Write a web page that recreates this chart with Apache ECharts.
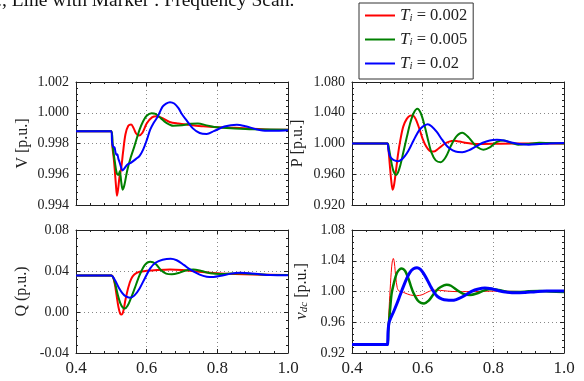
<!DOCTYPE html>
<html>
<head>
<meta charset="utf-8">
<script src="https://cdn.jsdelivr.net/npm/echarts@6/dist/echarts.min.js"></script>
<style>
  html, body { margin: 0; padding: 0; background: #fff; }
  #chart { width: 584px; height: 381px; }
</style>
</head>
<body>
<div id="chart"></div>
<script>
// legend labels
const seriesNames = ['0.002', '0.005', '0.02'];
const colors = ['#ff0000', '#008000', '#0000ff'];

// V [p.u.]
const vRed = [[0.4,0.9988],[0.5,0.9988],[0.503,0.9978],[0.507,0.9970],[0.51,0.9962],[0.513,0.9953],[0.516,0.9946],[0.519,0.9950],[0.523,0.9958],[0.528,0.9964],[0.533,0.9974],[0.54,0.9986],[0.548,0.99915],[0.556,0.99924],[0.563,0.9990],[0.57,0.99865],[0.578,0.99852],[0.588,0.9987],[0.6,0.9993],[0.615,0.9997],[0.628,0.99978],[0.645,0.99965],[0.665,0.9994],[0.69,0.9993],[0.72,0.99922],[0.76,0.99912],[0.8,0.99906],[0.85,0.99902],[0.9,0.99896],[0.95,0.9989],[1.0,0.99889]];
const vGreen = [[0.4,0.9988],[0.5,0.9988],[0.504,0.9978],[0.51,0.9968],[0.515,0.9961],[0.52,0.99595],[0.524,0.9962],[0.528,0.9955],[0.532,0.9950],[0.537,0.9953],[0.545,0.99625],[0.555,0.9971],[0.565,0.9978],[0.58,0.9989],[0.59,0.99945],[0.6,0.9998],[0.614,0.99997],[0.625,0.99993],[0.64,0.99965],[0.655,0.99935],[0.675,0.99915],[0.7,0.99918],[0.725,0.99928],[0.745,0.9993],[0.77,0.99918],[0.8,0.99905],[0.85,0.99898],[0.9,0.99893],[1.0,0.9989]];
const vBlue = [[0.4,0.9988],[0.5,0.9988],[0.502,0.9981],[0.505,0.9978],[0.509,0.99775],[0.512,0.9974],[0.515,0.99725],[0.517,0.9973],[0.52,0.9970],[0.523,0.9968],[0.527,0.9965],[0.531,0.99625],[0.536,0.99635],[0.545,0.99662],[0.556,0.99676],[0.57,0.9970],[0.58,0.9972],[0.59,0.9976],[0.6,0.9982],[0.61,0.9989],[0.62,0.99935],[0.63,0.9997],[0.645,1.0004],[0.655,1.0006],[0.666,1.00069],[0.678,1.0006],[0.69,1.0003],[0.7,0.9999],[0.713,0.9995],[0.73,0.9990],[0.75,0.99868],[0.77,0.99862],[0.79,0.9988],[0.82,0.9991],[0.855,0.99922],[0.88,0.99912],[0.91,0.99893],[0.94,0.99883],[0.97,0.99883],[1.0,0.99886]];

// P [p.u.]
const pRed = [[0.4,1],[0.5,1],[0.503,0.993],[0.507,0.972],[0.511,0.952],[0.515,0.940],[0.519,0.946],[0.524,0.963],[0.53,0.985],[0.537,1.005],[0.545,1.022],[0.555,1.032],[0.565,1.0362],[0.572,1.0365],[0.58,1.032],[0.59,1.02],[0.6,1.006],[0.61,0.996],[0.62,0.9905],[0.632,0.9895],[0.645,0.9935],[0.66,0.999],[0.675,1.0025],[0.69,1.0035],[0.705,1.0025],[0.72,1.001],[0.74,0.9998],[0.77,0.9995],[0.82,0.9998],[0.9,1.0],[1.0,1.0]];
const pGreen = [[0.4,1],[0.5,1],[0.504,0.995],[0.51,0.979],[0.516,0.966],[0.521,0.9605],[0.525,0.959],[0.53,0.962],[0.537,0.972],[0.545,0.988],[0.555,1.008],[0.565,1.027],[0.575,1.040],[0.585,1.0452],[0.595,1.039],[0.605,1.024],[0.615,1.005],[0.625,0.988],[0.637,0.978],[0.651,0.9756],[0.665,0.982],[0.68,0.997],[0.695,1.009],[0.712,1.014],[0.73,1.008],[0.75,0.997],[0.772,0.992],[0.79,0.995],[0.81,1.002],[0.828,1.004],[0.85,1.001],[0.87,0.9985],[0.9,0.9995],[0.93,1.001],[0.96,1.0005],[1.0,1.0]];
const pBlue = [[0.4,1],[0.5,1],[0.503,0.992],[0.507,0.984],[0.512,0.9805],[0.52,0.978],[0.531,0.977],[0.54,0.979],[0.55,0.984],[0.56,0.991],[0.57,1.0],[0.58,1.009],[0.59,1.017],[0.6,1.022],[0.614,1.0252],[0.625,1.0225],[0.64,1.015],[0.655,1.005],[0.67,0.996],[0.685,0.991],[0.7,0.9888],[0.712,0.9887],[0.73,0.991],[0.75,0.996],[0.77,1.001],[0.79,1.004],[0.81,1.0048],[0.83,1.004],[0.855,1.001],[0.88,0.999],[0.9,0.9985],[0.93,0.9992],[0.96,1.0],[1.0,1.0005]];

// Q (p.u.)
const qRed = [[0.4,0.0355],[0.5,0.0355],[0.505,0.034],[0.51,0.027],[0.515,0.016],[0.52,0.005],[0.525,-0.0015],[0.529,-0.0025],[0.534,0.001],[0.54,0.012],[0.548,0.024],[0.556,0.032],[0.565,0.0365],[0.58,0.0392],[0.6,0.0402],[0.63,0.041],[0.666,0.0415],[0.7,0.041],[0.74,0.0395],[0.8,0.0378],[0.85,0.037],[0.9,0.0365],[1.0,0.036]];
const qGreen = [[0.4,0.0355],[0.5,0.0355],[0.506,0.033],[0.512,0.026],[0.518,0.017],[0.525,0.009],[0.532,0.0045],[0.538,0.0033],[0.546,0.006],[0.555,0.013],[0.565,0.022],[0.58,0.036],[0.595,0.046],[0.61,0.049],[0.625,0.047],[0.64,0.041],[0.655,0.0375],[0.671,0.0368],[0.69,0.038],[0.71,0.0405],[0.732,0.0415],[0.755,0.040],[0.78,0.0378],[0.81,0.037],[0.84,0.0375],[0.87,0.0378],[0.9,0.037],[0.95,0.0362],[1.0,0.036]];
const qBlue = [[0.4,0.0355],[0.5,0.0355],[0.505,0.034],[0.512,0.03],[0.52,0.0245],[0.53,0.019],[0.54,0.0155],[0.553,0.014],[0.565,0.016],[0.58,0.023],[0.595,0.033],[0.61,0.0425],[0.625,0.048],[0.645,0.051],[0.668,0.052],[0.685,0.0505],[0.705,0.046],[0.725,0.041],[0.75,0.0365],[0.77,0.0345],[0.789,0.0342],[0.81,0.0353],[0.835,0.0372],[0.864,0.0382],[0.89,0.0378],[0.92,0.0368],[0.95,0.036],[1.0,0.0358]];

// v_dc [p.u.]
const dcRed = [[0.4,0.931],[0.5,0.931],[0.503,0.96],[0.507,0.995],[0.511,1.025],[0.514,1.039],[0.517,1.043],[0.52,1.037],[0.524,1.018],[0.528,1.005],[0.533,1.0005],[0.54,1.0],[0.55,0.998],[0.565,0.9955],[0.583,0.9945],[0.6,0.996],[0.615,0.9995],[0.63,1.0017],[0.65,1.0015],[0.67,1.0005],[0.7,0.9998],[0.75,1.0],[0.8,1.0005],[0.9,1.0],[1.0,1.0]];
const dcGreen = [[0.4,0.931],[0.5,0.931],[0.503,0.95],[0.508,0.978],[0.512,0.997],[0.517,1.008],[0.522,1.017],[0.527,1.024],[0.534,1.0285],[0.541,1.0298],[0.55,1.027],[0.558,1.019],[0.566,1.008],[0.574,0.998],[0.585,0.989],[0.595,0.9852],[0.604,0.9844],[0.617,0.988],[0.63,0.996],[0.645,1.004],[0.66,1.008],[0.668,1.0088],[0.68,1.0075],[0.7,1.001],[0.715,0.997],[0.734,0.9955],[0.755,0.9978],[0.775,1.0015],[0.795,1.0032],[0.815,1.002],[0.84,0.9995],[0.87,0.9992],[0.9,1.0002],[0.93,1.0005],[0.96,1.0],[1.0,0.9995]];
const dcBlue = [[0.4,0.931],[0.5,0.931],[0.502,0.948],[0.505,0.96],[0.51,0.966],[0.518,0.974],[0.527,0.984],[0.536,0.995],[0.545,1.006],[0.555,1.017],[0.564,1.025],[0.574,1.0295],[0.584,1.031],[0.593,1.029],[0.602,1.024],[0.612,1.016],[0.622,1.007],[0.632,0.999],[0.642,0.9935],[0.655,0.9902],[0.668,0.9888],[0.682,0.9885],[0.695,0.9895],[0.71,0.9925],[0.725,0.9965],[0.74,1.0005],[0.755,1.003],[0.776,1.0047],[0.795,1.0035],[0.815,1.001],[0.84,0.999],[0.865,0.9983],[0.89,0.9988],[0.92,0.9998],[0.95,1.0005],[1.0,1.0005]];

const serif = 'Liberation Serif';
const ink = '#222';

const grids = [
    { left: 76, top: 82, width: 212, height: 123 },
    { left: 352, top: 82, width: 212, height: 123 },
    { left: 76, top: 230, width: 212, height: 123 },
    { left: 352, top: 230, width: 212, height: 123 }
];

// y axis settings per panel
const yCfg = [
    { min: 0.994, max: 1.002, interval: 0.002, digits: 3, name: 'V [p.u.]', gap: 45 },
    { min: 0.92, max: 1.08, interval: 0.04, digits: 3, name: 'P [p.u.]', gap: 46 },
    { min: -0.04, max: 0.08, interval: 0.04, digits: 2, name: 'Q (p.u.)', gap: 46 },
    { min: 0.92, max: 1.08, interval: 0.04, digits: 2, name: '{v|v}{d|dc} [p.u.]', gap: 42 }
];

const panelData = [
    [vRed, vGreen, vBlue],
    [pRed, pGreen, pBlue],
    [qRed, qGreen, qBlue],
    [dcRed, dcGreen, dcBlue]
];

const frameLine = { show: true, onZero: false, lineStyle: { color: ink, width: 1 } };
const tick = { show: true, inside: true, length: 4, lineStyle: { color: ink } };
const minor = { show: true, splitNumber: 5, length: 2, lineStyle: { color: ink } };

const xAxis = [];
const yAxis = [];
// main axes (bottom / left)
grids.forEach((g, i) => {
    xAxis.push({
        type: 'value', gridIndex: i, position: 'bottom',
        min: 0.4, max: 1.0, interval: 0.2,
        axisLine: frameLine, axisTick: tick, minorTick: minor,
        splitLine: { show: true, lineStyle: { color: '#888', type: [1, 3], width: 1 } },
        axisLabel: {
            show: i >= 2, margin: 7, fontSize: 17, fontFamily: serif, color: ink,
            formatter: v => v.toFixed(1)
        }
    });
    const c = yCfg[i];
    yAxis.push({
        type: 'value', gridIndex: i, position: 'left',
        min: c.min, max: c.max, interval: c.interval,
        axisLine: frameLine, axisTick: tick, minorTick: minor,
        splitLine: { show: true, lineStyle: { color: '#888', type: [1, 3], width: 1 } },
        axisLabel: {
            margin: 7, fontSize: 14, fontFamily: serif, color: ink,
            formatter: v => v.toFixed(c.digits)
        },
        name: c.name, nameLocation: 'middle', nameGap: c.gap,
        nameTextStyle: {
            fontSize: 16, fontFamily: serif, color: ink,
            rich: {
                v: { fontSize: 17, fontStyle: 'italic', fontFamily: serif, color: ink },
                d: { fontSize: 11, fontStyle: 'italic', fontFamily: serif, color: ink, lineHeight: 8, verticalAlign: 'bottom' }
            }
        }
    });
});
// mirror axes (top / right) to close the box
grids.forEach((g, i) => {
    const c = yCfg[i];
    xAxis.push({
        type: 'value', gridIndex: i, position: 'top',
        min: 0.4, max: 1.0, interval: 0.2,
        axisLine: frameLine, axisTick: tick, minorTick: minor,
        splitLine: { show: false }, axisLabel: { show: false }
    });
    yAxis.push({
        type: 'value', gridIndex: i, position: 'right',
        min: c.min, max: c.max, interval: c.interval,
        axisLine: frameLine, axisTick: tick, minorTick: minor,
        splitLine: { show: false }, axisLabel: { show: false }
    });
});

const series = [];
panelData.forEach((curves, i) => {
    curves.forEach((data, k) => {
        let w = 2;
        if (i === 3) w = [1, 2.5, 3][k];
        series.push({
            name: seriesNames[k],
            type: 'line',
            xAxisIndex: i,
            yAxisIndex: i,
            data: data,
            smooth: 0.3,
            symbol: 'none',
            showSymbol: false,
            color: colors[k],
            lineStyle: { color: colors[k], width: w }
        });
    });
});

const chart = echarts.init(document.getElementById('chart'), null, { renderer: 'canvas' });
chart.setOption({
    animation: false,
    backgroundColor: '#fff',
    grid: grids,
    xAxis: xAxis,
    yAxis: yAxis,
    legend: {
        data: seriesNames,
        orient: 'vertical',
        left: 359,
        top: 3,
        padding: [4, 6, 7, 6],
        itemWidth: 30,
        itemHeight: 2,
        itemGap: 7,
        itemTextGap: 10,
        icon: 'rect',
        backgroundColor: '#fff',
        borderColor: '#333',
        borderWidth: 1,
        formatter: n => '{t|T}{s|i}{e| = ' + n + '}',
        textStyle: {
            color: ink,
            rich: {
                t: { fontSize: 17, fontStyle: 'italic', fontFamily: serif, color: ink, lineHeight: 16 },
                s: { fontSize: 11, fontStyle: 'italic', fontFamily: serif, color: ink, lineHeight: 8, verticalAlign: 'bottom' },
                e: { fontSize: 16.5, fontFamily: serif, color: ink, lineHeight: 16 }
            }
        }
    },
    graphic: [{
        type: 'text',
        left: -3,
        top: -9,
        style: {
            text: '., Line with Marker : Frequency Scan.',
            font: '19.5px "Liberation Serif"',
            fill: '#111'
        }
    }],
    series: series
});
</script>
</body>
</html>
